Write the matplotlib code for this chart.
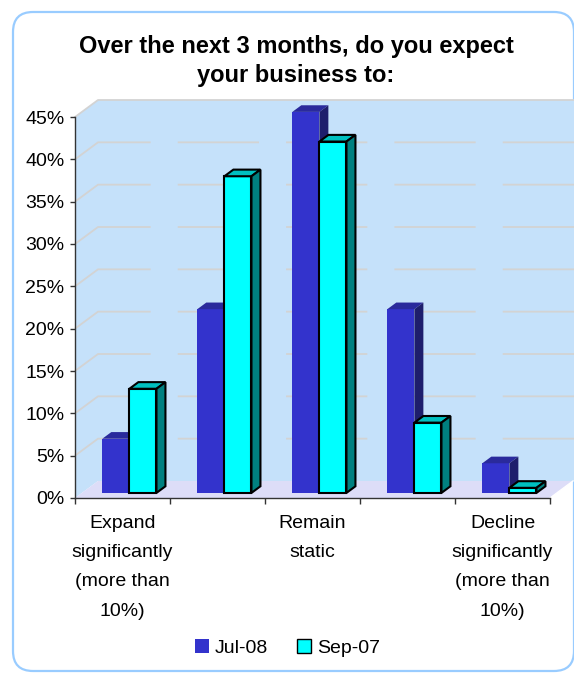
import matplotlib
matplotlib.use("Agg")
import matplotlib.pyplot as plt
import matplotlib.patches as mpatches
from matplotlib.transforms import IdentityTransform

# ========== Data ==========
categories = ["Expand significantly (more than 10%)", "Expand", "Remain static",
              "Decline", "Decline significantly (more than 10%)"]
cat_labels = ["Expand\nsignificantly\n(more than\n10%)", "", "Remain\nstatic", "",
              "Decline\nsignificantly\n(more than\n10%)"]
series_names = ["Jul-08", "Sep-07"]
jul08 = [6.4, 21.7, 45.0, 21.7, 3.5]
sep07 = [12.3, 37.4, 41.5, 8.3, 0.6]
y_ticks = [0, 5, 10, 15, 20, 25, 30, 35, 40, 45]
y_ticklabels = ["0%", "5%", "10%", "15%", "20%", "25%", "30%", "35%", "40%", "45%"]
title = "Over the next 3 months, do you expect\nyour business to:"

# colours: front, top, side
styles = [
    {"front": "#3333CC", "top": "#2A2A9C", "side": "#1E1E6C", "edge": "none", "lw": 0},
    {"front": "#00FFFF", "top": "#00C0C0", "side": "#008080", "edge": "black", "lw": 1.5},
]

plt.rcParams["font.family"] = ["Liberation Sans", "DejaVu Sans"]

W, H = 574, 673
fig = plt.figure(figsize=(W / 100, H / 100), dpi=100)
fig.patch.set_facecolor("white")

# outer rounded frame (behind the axes)
frame = mpatches.FancyBboxPatch((13, 2), 561, 659,
                                boxstyle="round,pad=0,rounding_size=20",
                                transform=IdentityTransform(),
                                facecolor="white", edgecolor="#99CCFF", lw=1.6,
                                zorder=-5)
fig.add_artist(frame)

ax = fig.add_axes([75 / W, 1 - 498 / H, 475 / W, 381 / H])
ax.set_zorder(1)
ax.set_xlim(-0.5, 4.5)
ax.set_ylim(0, 45)
ax.set_facecolor("none")

# oblique depth offset (data units)
DX = 23 / 95
DY = 17 / (381 / 45)
XR = 5.2  # wall keeps going past the figure edge

# walls
wall = mpatches.Polygon([(-0.5, 0), (-0.5, 45), (-0.5 + DX, 45 + DY), (XR, 45 + DY),
                         (XR, DY), (-0.5 + DX, DY)],
                        closed=True, facecolor="#C5E1FA", edgecolor="none",
                        zorder=0, clip_on=False)
ax.add_patch(wall)
floor = mpatches.Polygon([(-0.5, 0), (4.5, 0), (4.5 + DX, DY), (-0.5 + DX, DY)],
                         closed=True, facecolor="#DDDDF8", edgecolor="none",
                         zorder=0.5, clip_on=False)
ax.add_patch(floor)
ax.plot([4.5, 4.5 + DX], [0, DY], color="white", lw=1, zorder=0.6, clip_on=False)

# gridlines on side + back wall
for v in y_ticks[1:]:
    ax.plot([-0.5, -0.5 + DX, XR], [v, v + DY, v + DY], color="#D3D3D3", lw=1.3,
            linestyle=(0, (45, 15)) if v < 45 else "-", zorder=1, clip_on=False)

# 3D bars
d0, d1 = 0.3, 0.69
w = 0.285
for i in range(len(categories)):
    for s, vals in enumerate([jul08, sep07]):
        st = styles[s]
        v = vals[i]
        x0 = i - w + s * w
        ax.bar(x0 + d0 * DX, v, width=w, bottom=d0 * DY, align="edge",
               color=st["front"], edgecolor=st["edge"], lw=st["lw"], zorder=3,
               clip_on=False)
        top = [(x0 + d0 * DX, d0 * DY + v), (x0 + w + d0 * DX, d0 * DY + v),
               (x0 + w + d1 * DX, d1 * DY + v), (x0 + d1 * DX, d1 * DY + v)]
        side = [(x0 + w + d0 * DX, d0 * DY), (x0 + w + d1 * DX, d1 * DY),
                (x0 + w + d1 * DX, d1 * DY + v), (x0 + w + d0 * DX, d0 * DY + v)]
        ax.add_patch(mpatches.Polygon(top, closed=True, facecolor=st["top"],
                                      edgecolor=st["edge"], lw=st["lw"], zorder=3,
                                      clip_on=False))
        ax.add_patch(mpatches.Polygon(side, closed=True, facecolor=st["side"],
                                      edgecolor=st["edge"], lw=st["lw"], zorder=3,
                                      clip_on=False))

# axes
for sp in ["top", "right"]:
    ax.spines[sp].set_visible(False)
for sp in ["left", "bottom"]:
    ax.spines[sp].set_color("#333333")
    ax.spines[sp].set_linewidth(1.0)
    ax.spines[sp].set_zorder(4)

ax.set_yticks(y_ticks)
ax.set_yticklabels(y_ticklabels, fontsize=14)
ax.tick_params(axis="y", direction="out", length=3.6, width=1, color="#333333", pad=4)

ax.set_xticks(range(len(categories)))
ax.set_xticklabels(cat_labels, fontsize=14, linespacing=1.95)
ax.set_xticks([i - 0.5 for i in range(len(categories) + 1)], minor=True)
ax.tick_params(axis="x", which="major", length=0, pad=12)
ax.tick_params(axis="x", which="minor", direction="out", length=4.5, width=1, color="#333333")

fig.text(296 / W, 1 - 35 / H, title, ha="center", va="top", fontsize=17,
         fontweight="bold", linespacing=1.35)

handles = [mpatches.Patch(facecolor=styles[0]["front"], edgecolor="none"),
           mpatches.Patch(facecolor=styles[1]["front"], edgecolor="black", lw=1)]
fig.legend(handles, series_names, loc="center", bbox_to_anchor=(287.5 / W, 1 - 648 / H),
           ncol=2, frameon=False, fontsize=14, handlelength=0.72, handleheight=0.72,
           handletextpad=0.3, columnspacing=1.5)

fig.savefig("out.png", dpi=100)
